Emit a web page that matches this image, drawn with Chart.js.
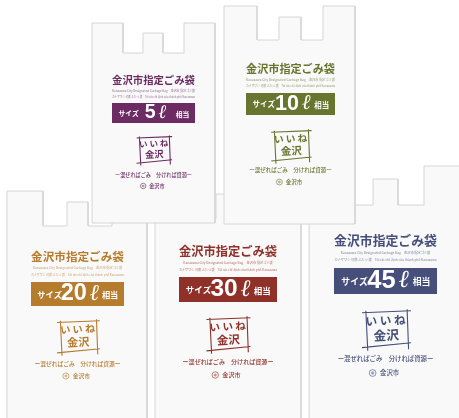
<!DOCTYPE html>
<html lang="ja">
<head>
<meta charset="utf-8">
<title>金沢市指定ごみ袋</title>
<script src="https://cdn.jsdelivr.net/npm/chart.js@4"></script>
<style>
  html, body { margin: 0; padding: 0; background: #fff; overflow: hidden; }
  canvas { display: block; filter: blur(0.35px); }
</style>
</head>
<body>
<canvas id="myChart" width="459" height="418"></canvas>
<script>
// bags: 5, 10, 20, 30, 45 litres
const sizes = ['5', '10', '20', '30', '45'];
const bagColors = ['#6c2b62', '#68752f', '#b67c2d', '#8f3129', '#464f79'];

const bagLeft = [92, 224, 7, 155, 309];
const bagRight = [215, 355, 147, 301, 470];
const bagTop = [23, 6, 191, 185, 166];
const bagBottom = [223, 224, 440, 440, 440];
const handleInL = [123, 257, 43, 185, 347];
const handleInR = [184, 323, 112, 265, 424];
const notchY = [53, 40, 226, 219, 205];
const tabLeft = [143, 279, 67, 216, 373];
const tabRight = [163, 301, 88, 240, 398];
const tabTop = [33, 17, 202, 194, 179];

const bandLeft = [112, 246, 31, 179, 334];
const bandRight = [195, 335, 124, 277, 437];
const bandTop = [103, 93, 282, 277, 268];
const bandBottom = [123, 115, 306, 302, 294];

const titleY = [80, 69, 257, 251, 240];
const smallY1 = [91, 80, 268, 263, 253];
const smallY2 = [97, 86, 275, 270, 260];
const logoX = [154, 291, 78, 228, 386];
const logoTop = [136, 130, 320, 317, 310];
const logoBottom = [165, 163, 355, 353, 350];
const sloganY = [175, 170, 364, 362, 359];
const cityY = [186, 182, 376, 375, 373];

const titleText = '金沢市指定ごみ袋';
const smallText1 = 'Kanazawa City Designated Garbage Bag　金沢市 指定ゴミ袋';
const smallText2 = 'カナザワシ 可燃 ふたつ 袋　Túi rác chỉ định của thành phố Kanazawa';
const sloganText = 'ー混ぜればごみ　分ければ資源ー';
const jpFont = '"Noto Sans CJK JP"';

const outline = (i) => [
  { x: bagLeft[i], y: bagTop[i] },
  { x: handleInL[i], y: bagTop[i] },
  { x: handleInL[i], y: notchY[i] },
  { x: tabLeft[i], y: notchY[i] },
  { x: tabLeft[i], y: tabTop[i] },
  { x: tabRight[i], y: tabTop[i] },
  { x: tabRight[i], y: notchY[i] },
  { x: handleInR[i], y: notchY[i] },
  { x: handleInR[i], y: bagTop[i] },
  { x: bagRight[i], y: bagTop[i] },
  { x: bagRight[i], y: bagBottom[i] },
  { x: bagLeft[i], y: bagBottom[i] },
  { x: bagLeft[i], y: bagTop[i] }
];

const band = (i) => [
  { x: bandLeft[i], y: bandTop[i] },
  { x: bandRight[i], y: bandTop[i] },
  { x: bandRight[i], y: bandBottom[i] },
  { x: bandLeft[i], y: bandBottom[i] },
  { x: bandLeft[i], y: bandTop[i] }
];

const datasets = [];
sizes.forEach((size, i) => {
  datasets.push({
    label: size + ' bag',
    data: outline(i),
    borderColor: '#d6d6d6',
    borderWidth: 1,
    backgroundColor: '#f9f9f9',
    fill: 'shape',
    pointRadius: 0,
    tension: 0,
    order: i < 2 ? 2 : 3
  });
  datasets.push({
    label: size + ' band',
    data: band(i),
    borderWidth: 0,
    backgroundColor: bagColors[i],
    fill: 'shape',
    pointRadius: 0,
    tension: 0,
    order: 1
  });
});

// text and the hand drawn stamp on each bag
const bagLabels = {
  id: 'bagLabels',
  afterDatasetsDraw(chart) {
    const ctx = chart.ctx;
    const xs = chart.scales.x;
    const ys = chart.scales.y;

    sizes.forEach((size, i) => {
      const left = xs.getPixelForValue(bandLeft[i]);
      const right = xs.getPixelForValue(bandRight[i]);
      const top = ys.getPixelForValue(bandTop[i]);
      const bottom = ys.getPixelForValue(bandBottom[i]);
      const w = right - left;
      const h = bottom - top;
      const mid = (left + right) / 2;
      const color = bagColors[i];

      ctx.save();
      ctx.textAlign = 'center';
      ctx.textBaseline = 'middle';
      ctx.fillStyle = color;

      ctx.font = '700 ' + (w / 8) + 'px ' + jpFont;
      ctx.fillText(titleText, mid, ys.getPixelForValue(titleY[i]));

      ctx.globalAlpha = 0.6;
      ctx.font = '500 3.2px ' + jpFont;
      ctx.fillText(smallText1, mid, ys.getPixelForValue(smallY1[i]), w);
      ctx.fillText(smallText2, mid, ys.getPixelForValue(smallY2[i]), w);
      ctx.globalAlpha = 1;

      // band text
      const bandMid = (top + bottom) / 2;
      ctx.fillStyle = '#fff';
      ctx.font = '700 ' + (h * 0.34) + 'px ' + jpFont;
      ctx.fillText('サイズ', left + w * 0.2, bandMid + 0.5);
      ctx.fillText('相当', left + w * 0.85, bandMid + 1);
      ctx.font = '700 ' + (h * 0.98) + 'px "Liberation Sans"';
      const numX = left + w * 0.46;
      ctx.fillText(size, numX, bandMid);
      const numW = ctx.measureText(size).width;
      ctx.font = 'italic 400 ' + (h * 0.95) + 'px "DejaVu Serif"';
      ctx.fillText('ℓ', numX + numW / 2 + w * 0.08, bandMid);

      // stamp frame, four loose strokes
      const cx = xs.getPixelForValue(logoX[i]);
      const ly1 = ys.getPixelForValue(logoTop[i]);
      const ly2 = ys.getPixelForValue(logoBottom[i]);
      const lh = ly2 - ly1;
      const lw = lh * 1.2;
      ctx.strokeStyle = color;
      ctx.lineWidth = 1.1;
      ctx.beginPath();
      ctx.moveTo(cx - lw * 0.5, ly1 + lh * 0.07);
      ctx.lineTo(cx + lw * 0.52, ly1 + lh * 0.02);
      ctx.moveTo(cx + lw * 0.44, ly1 - lh * 0.02);
      ctx.lineTo(cx + lw * 0.47, ly1 + lh * 0.98);
      ctx.moveTo(cx + lw * 0.52, ly1 + lh * 0.82);
      ctx.lineTo(cx - lw * 0.5, ly1 + lh * 0.94);
      ctx.moveTo(cx - lw * 0.42, ly1 + lh * 0.02);
      ctx.lineTo(cx - lw * 0.38, ly1 + lh * 1.02);
      ctx.stroke();

      ctx.save();
      ctx.translate(cx, ly1 + lh * 0.46);
      ctx.rotate(-0.05);
      ctx.fillStyle = color;
      ctx.font = '700 ' + (lh * 0.29) + 'px ' + jpFont;
      ctx.fillText('い い ね', 0, -lh * 0.2);
      ctx.font = '700 ' + (lh * 0.32) + 'px ' + jpFont;
      ctx.fillText('金沢', 0, lh * 0.17);
      ctx.restore();

      // slogan and city mark
      ctx.fillStyle = color;
      ctx.font = '500 ' + (w * 0.062) + 'px ' + jpFont;
      ctx.fillText(sloganText, mid, ys.getPixelForValue(sloganY[i]));
      const cityPx = ys.getPixelForValue(cityY[i]);
      ctx.fillText('金沢市', cx + w * 0.035, cityPx);
      ctx.lineWidth = 0.6;
      ctx.beginPath();
      ctx.arc(cx - w * 0.13, cityPx, w * 0.033, 0, Math.PI * 2);
      ctx.stroke();
      ctx.globalAlpha = 0.5;
      ctx.beginPath();
      ctx.arc(cx - w * 0.13, cityPx, w * 0.016, 0, Math.PI * 2);
      ctx.fill();
      ctx.restore();
    });
  }
};

new Chart(document.getElementById('myChart').getContext('2d'), {
  type: 'line',
  data: { datasets: datasets },
  options: {
    responsive: false,
    animation: false,
    parsing: true,
    layout: { padding: 0 },
    plugins: { legend: { display: false }, tooltip: { enabled: false } },
    scales: {
      x: { type: 'linear', min: 0, max: 459, display: false },
      y: { type: 'linear', min: 0, max: 418, reverse: true, display: false }
    }
  },
  plugins: [bagLabels]
});
</script>
</body>
</html>
